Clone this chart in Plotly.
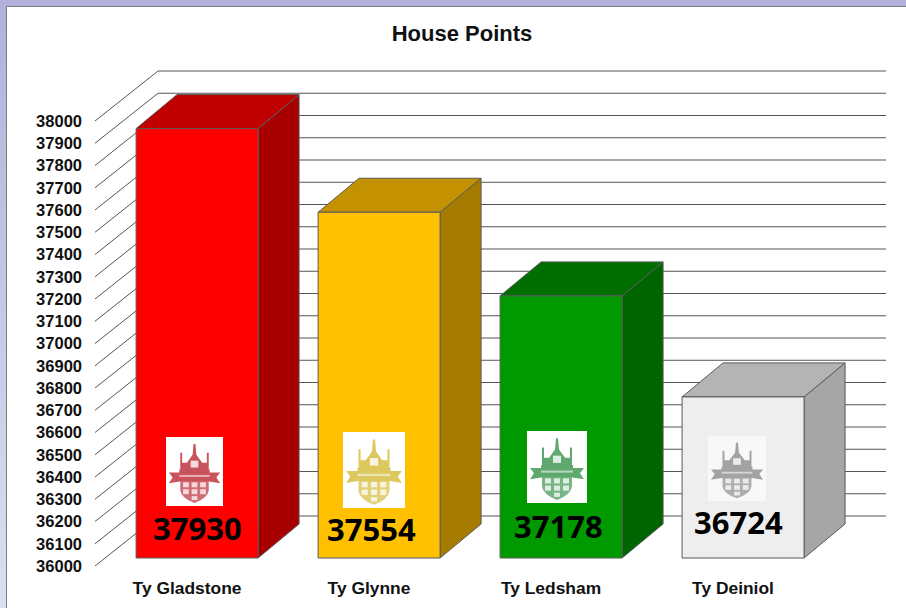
import base64
import plotly.graph_objects as go

# ---- data ----
houses = ["Ty Gladstone", "Ty Glynne", "Ty Ledsham", "Ty Deiniol"]
points = [37930, 37554, 37178, 36724]
y_ticks = list(range(36000, 38001, 100))

# ---- styles ----
front_colors = ["#ff0000", "#ffc000", "#009900", "#eeeeee"]
top_colors = ["#c00000", "#c49200", "#006f00", "#b4b4b4"]
side_colors = ["#a80000", "#a67c00", "#006400", "#a6a6a6"]
crest_colors = ["#c9525c", "#dcc85e", "#5fa86f", "#a2a2a2"]
box_colors = ["#ffffff", "#ffffff", "#ffffff", "#f8f8f8"]
edge = "#5a5a5a"

# ---- layout geometry (pixels) ----
W, H = 906, 608
LEFT, BOTTOM_PX = 85, 566
CAT0, CAT_STEP = 187, 182
PX_PER_UNIT = 0.2225
WALL_DX, WALL_DY = 63, 50        # depth of the chart box
BAR_D0, BAR_D1 = 0.16, 0.84      # bar front / back depth in the box
BAR_DX = 41                      # horizontal run of the bar's own depth
BAR_W = 122
WALL_END = 886

value_label_px = [(197, 528), (371, 529), (558, 526), (738, 522)]
crest_box_px = [(166, 437, 223, 506), (343, 432, 405, 508),
                (527, 431, 587, 503), (708, 436, 766, 501)]


def xd(px):
    return (px - CAT0) / CAT_STEP


def yd(py):
    return y_ticks[0] + (BOTTOM_PX - py) / PX_PER_UNIT


def project(x, v, depth):
    """Category-unit x and value v at a depth of the box -> axis coordinates."""
    return (x + depth * WALL_DX / CAT_STEP,
            v + depth * WALL_DY / PX_PER_UNIT)


def back_of(p):
    """Front-face corner -> matching corner on the bar's rear face."""
    return (p[0] + BAR_DX / CAT_STEP,
            p[1] + (BAR_D1 - BAR_D0) * WALL_DY / PX_PER_UNIT)


def poly(fig, pts, fill, name):
    xs = [p[0] for p in pts] + [pts[0][0]]
    ys = [p[1] for p in pts] + [pts[0][1]]
    fig.add_trace(go.Scatter(x=xs, y=ys, mode="lines", fill="toself",
                             fillcolor=fill, line=dict(color=edge, width=1),
                             hoverinfo="skip", name=name))


fig = go.Figure()

# grid: diagonal on the side wall then horizontal on the back wall
gx, gy = [], []
wall_end_x = xd(WALL_END)
for t in y_ticks:
    a = project(xd(95), t, 0)
    b = project(xd(95), t, 1)
    gx += [a[0], b[0], wall_end_x, None]
    gy += [a[1], b[1], b[1], None]
fig.add_trace(go.Scatter(x=gx, y=gy, mode="lines",
                         line=dict(color="#555555", width=1), hoverinfo="skip"))

half = BAR_W / 2 / CAT_STEP
base = y_ticks[0]
for i, v in enumerate(points):
    l, r = i - half, i + half
    fl_b, fr_b = project(l, base, BAR_D0), project(r, base, BAR_D0)
    fl_t, fr_t = project(l, v, BAR_D0), project(r, v, BAR_D0)
    bl_t, br_t = back_of(fl_t), back_of(fr_t)
    br_b = back_of(fr_b)
    poly(fig, [fr_b, br_b, br_t, fr_t], side_colors[i], houses[i] + " side")
    poly(fig, [fl_t, bl_t, br_t, fr_t], top_colors[i], houses[i] + " top")
    poly(fig, [fl_b, fl_t, fr_t, fr_b], front_colors[i], houses[i])


def crest_uri(color, box):
    svg = f'''<svg xmlns="http://www.w3.org/2000/svg" viewBox="0 0 60 70" preserveAspectRatio="none">
<defs><filter id="b"><feGaussianBlur stdDeviation="0.4"/></filter></defs>
<rect width="60" height="70" fill="{box}"/>
<g filter="url(#b)" fill="{color}">
<path d="M29 7 L31 7 L32 18 L38 26 L43 26 L43 16 L45 16 L45 34 L15 34 L15 16 L17 16 L17 26 L22 26 L28 18 Z"/>
<rect x="26" y="24" width="8" height="7" fill="#ffffff" opacity="0.8"/>
<path d="M3 36 L14 36 L14 33 L46 33 L46 36 L57 36 L53 41 L57 47 L44 45 L16 45 L3 47 L7 41 Z"/>
<path d="M15 44 L45 44 L45 54 Q44 62 30 67 Q16 62 15 54 Z" opacity="0.85"/>
<g fill="#ffffff" opacity="0.75">
<rect x="18" y="46" width="6" height="5"/><rect x="27" y="46" width="6" height="5"/><rect x="36" y="46" width="6" height="5"/>
<rect x="18" y="53" width="6" height="5"/><rect x="27" y="53" width="6" height="5"/><rect x="36" y="53" width="6" height="5"/>
<rect x="27" y="60" width="6" height="4"/>
</g>
<rect x="14" y="38.5" width="32" height="2" fill="#ffffff" opacity="0.55"/>
</g></svg>'''
    return "data:image/svg+xml;base64," + base64.b64encode(svg.encode()).decode()


frame_svg = f'''<svg xmlns="http://www.w3.org/2000/svg" width="{W}" height="{H}" viewBox="0 0 {W} {H}">
<defs><linearGradient id="g" x1="0" y1="0" x2="0" y2="1">
<stop offset="0" stop-color="#b1b1d9"/><stop offset="1" stop-color="#dcdff0"/></linearGradient></defs>
<rect width="{W}" height="{H}" fill="url(#g)"/>
<rect x="0" y="0" width="{W}" height="7" fill="#b1b1d9"/>
<rect x="6.5" y="6.5" width="{W}" height="{H}" fill="#ffffff" stroke="#7d7d85" stroke-width="1"/>
</svg>'''
frame_uri = "data:image/svg+xml;base64," + base64.b64encode(frame_svg.encode()).decode()

plot_w = W - LEFT
images = [dict(source=frame_uri, xref="paper", yref="paper",
               x=-LEFT / plot_w, y=1, sizex=W / plot_w, sizey=H / BOTTOM_PX,
               xanchor="left", yanchor="top", sizing="stretch", layer="below")]
for (x0, y0, x1, y1), c, bc in zip(crest_box_px, crest_colors, box_colors):
    images.append(dict(source=crest_uri(c, bc), xref="x", yref="y",
                       x=xd(x0), y=yd(y0), sizex=(x1 - x0) / CAT_STEP,
                       sizey=(y1 - y0) / PX_PER_UNIT, xanchor="left",
                       yanchor="top", sizing="stretch", layer="above"))

annotations = [dict(x=xd(px), y=yd(py), text=str(v), showarrow=False,
                    xanchor="center", yanchor="middle",
                    font=dict(family="Noto Sans", size=31, color="#000000",
                              weight="bold"))
               for (px, py), v in zip(value_label_px, points)]

fig.update_layout(
    width=W, height=H, autosize=False, showlegend=False,
    paper_bgcolor="#ffffff", plot_bgcolor="rgba(0,0,0,0)",
    margin=dict(l=LEFT, r=0, t=0, b=H - BOTTOM_PX, pad=0),
    title=dict(text="<b>House Points</b>", x=462 / W, y=1 - 33 / H,
               xref="container", yref="container", xanchor="center", yanchor="middle",
               font=dict(family="Liberation Sans", size=22, color="#111111")),
    xaxis=dict(range=[xd(LEFT), xd(W)], tickmode="array",
               tickvals=list(range(len(houses))), ticktext=houses,
               showgrid=False, zeroline=False, showline=False, ticks="",
               ticklabelstandoff=10,
               tickfont=dict(family="Liberation Sans", size=17.4, color="#111111",
                             weight="bold")),
    yaxis=dict(range=[y_ticks[0], yd(0)], tickmode="array", tickvals=y_ticks,
               ticktext=[str(t) for t in y_ticks],
               showgrid=False, zeroline=False, showline=False, ticks="",
               ticklabelstandoff=2,
               tickfont=dict(family="Liberation Sans", size=16.5, color="#111111",
                             weight="bold")),
    images=images, annotations=annotations,
)

fig.write_html("out.html", config={"displayModeBar": False},
               post_script="document.body.style.margin='0';document.body.style.overflow='hidden';")
